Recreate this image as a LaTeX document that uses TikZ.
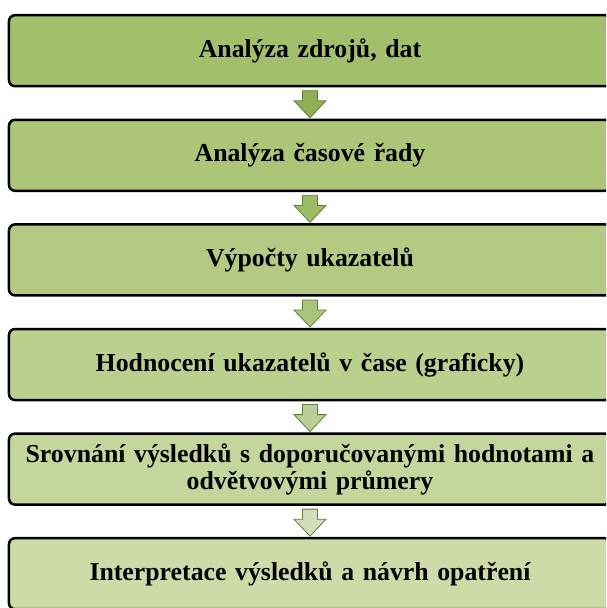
\documentclass[tikz,border=0pt]{standalone}
\usepackage{fontspec}
\setmainfont{Liberation Serif}
\usepackage{tikz}
\usetikzlibrary{matrix,calc}

\definecolor{boxa}{HTML}{A4BF6B}
\definecolor{boxb}{HTML}{ACC576}
\definecolor{boxc}{HTML}{B4CA82}
\definecolor{boxd}{HTML}{BCD08E}
\definecolor{boxe}{HTML}{C4D69B}
\definecolor{boxf}{HTML}{CDDBA9}
\definecolor{arra}{HTML}{8FAF52}
\definecolor{arrb}{HTML}{9DBA64}
\definecolor{arrc}{HTML}{ABC47B}
\definecolor{arrd}{HTML}{BBCE98}
\definecolor{arre}{HTML}{D1DEB9}
\definecolor{arrline}{HTML}{62803A}

\begin{document}
\begin{tikzpicture}[%
		x=1pt,y=1pt,
		stepbox/.style={draw=black,line width=2.5pt,rounded corners=6pt,
			minimum width=602pt,minimum height=71pt,text width=596pt,align=center,
			inner sep=0pt,outer sep=0pt,
			font=\fontsize{25.8}{27}\selectfont\bfseries},
		flow/.style={draw=arrline,line width=0.8pt,line join=miter}]
		\useasboundingbox (0,0) rectangle (606,-608);
		\clip (0,0) rectangle (606,-608);
		\matrix(m)[matrix of nodes,anchor=north,inner sep=0pt,row sep=31.1pt,
		nodes={stepbox},
		row 1/.style={nodes={fill=boxa}},
		row 2/.style={nodes={fill=boxb}},
		row 3/.style={nodes={fill=boxc}},
		row 4/.style={nodes={fill=boxd}},
		row 5/.style={nodes={fill=boxe}},
		row 6/.style={nodes={fill=boxf}}]at(310,-13.75)
		{
			Analýza zdrojů, dat \\
			Analýza časové řady \\
			Výpočty ukazatelů \\
			Hodnocení ukazatelů v čase (graficky) \\
			{Srovnání výsledků s doporučovanými hodnotami a\\odvětvovými průmery} \\
			Interpretace výsledků a návrh opatření \\
		};
		% block arrows between the steps
		\foreach \i/\c in {1/arra,2/arrb,3/arrc,4/arrd,5/arre}{
			\pgfmathtruncatemacro\j{\i+1}
			\draw[flow,fill=\c] ($(m-\i-1.south)+(-7.5,-4.5)$) -- ($(m-\i-1.south)+(7.5,-4.5)$)
				-- ($(m-\j-1.north)+(7.5,19)$) -- ($(m-\j-1.north)+(16,19)$)
				-- ($(m-\j-1.north)+(0,2)$) -- ($(m-\j-1.north)+(-16,19)$)
				-- ($(m-\j-1.north)+(-7.5,19)$) -- cycle;
		}
	\end{tikzpicture}
\end{document}
